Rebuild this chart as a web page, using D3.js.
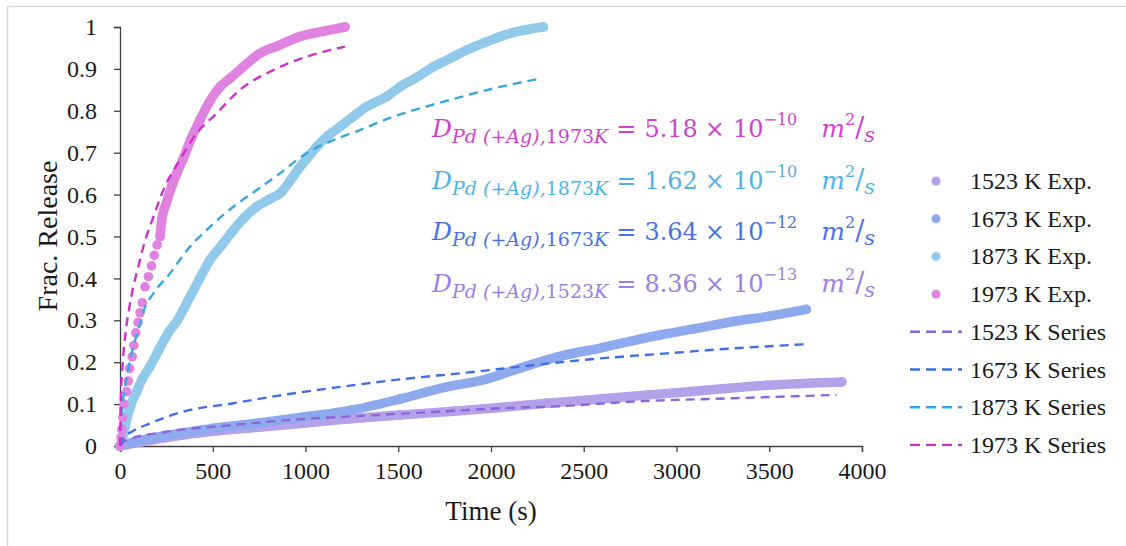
<!DOCTYPE html>
<html lang="en">
<head>
<meta charset="UTF-8">
<title>Frac. Release</title>
<style>
  body { margin: 0; background: #fff; }
</style>
</head>
<body>
<script src="https://cdn.jsdelivr.net/npm/d3@7/dist/d3.min.js"></script>
<script>
// ---- data ----
const temps = ["1523", "1673", "1873", "1973"];

// experimental release, [time s, fraction]
const exp1523 = [[0,0],[250,0.02],[500,0.035],[750,0.045],[1000,0.055],[1240,0.065],[1509,0.074],[1800,0.083],[2049,0.092],[2300,0.102],[2588,0.112],[2850,0.122],[3127,0.132],[3486,0.145],[3891,0.153]];
const exp1673 = [[0,0],[100,0.012],[250,0.025],[500,0.042],[750,0.055],[1000,0.07],[1240,0.085],[1509,0.112],[1750,0.14],[1977,0.16],[2150,0.185],[2354,0.212],[2600,0.235],[2911,0.265],[3100,0.28],[3306,0.297],[3500,0.31],[3700,0.326]];
const exp1873 = [[0,0],[20,0.03],[40,0.07],[60,0.1],[90,0.13],[120,0.16],[162,0.19],[210,0.23],[260,0.27],[310,0.3],[377,0.356],[430,0.4],[485,0.444],[550,0.48],[611,0.515],[670,0.545],[737,0.571],[810,0.59],[871,0.606],[920,0.635],[960,0.66],[1006,0.685],[1060,0.714],[1120,0.74],[1186,0.762],[1260,0.787],[1330,0.81],[1438,0.834],[1509,0.857],[1600,0.88],[1689,0.905],[1780,0.925],[1869,0.945],[1960,0.962],[2049,0.977],[2150,0.99],[2282,1.0]];
const exp1973 = [[0,0],[5,0.02],[10,0.04],[15,0.068],[22,0.1],[36,0.13],[45,0.155],[52,0.185],[66,0.213],[75,0.24],[85,0.27],[97,0.295],[108,0.318],[120,0.342],[135,0.38],[153,0.404],[170,0.43],[185,0.455],[200,0.48],[216,0.5],[225,0.54],[250,0.58],[279,0.62],[310,0.655],[341,0.685],[380,0.73],[431,0.778],[480,0.82],[539,0.857],[600,0.88],[664,0.905],[755,0.937],[850,0.955],[970,0.977],[1100,0.99],[1213,1.0]];

// model series
const fit1523 = [[0,0],[36,0.014],[252,0.034],[611,0.05],[970,0.064],[1222,0.07],[1509,0.077],[1800,0.084],[2049,0.09],[2372,0.095],[2767,0.106],[3306,0.114],[3863,0.122]];
const fit1673 = [[0,0],[20,0.02],[63,0.034],[162,0.054],[341,0.082],[611,0.102],[880,0.122],[1222,0.143],[1509,0.159],[1869,0.175],[2228,0.193],[2588,0.209],[2947,0.221],[3306,0.233],[3702,0.243]];
const fit1873 = [[0,0],[10,0.08],[27,0.14],[50,0.195],[72,0.237],[108,0.29],[126,0.32],[180,0.364],[270,0.412],[359,0.466],[485,0.523],[611,0.571],[737,0.611],[863,0.651],[1006,0.699],[1150,0.73],[1294,0.754],[1473,0.786],[1650,0.81],[1779,0.826],[2049,0.857],[2255,0.876]];
const fit1973 = [[0,0],[5,0.12],[15,0.2],[30,0.27],[50,0.33],[72,0.38],[100,0.43],[126,0.476],[180,0.547],[234,0.611],[323,0.683],[413,0.746],[521,0.794],[647,0.85],[826,0.897],[1006,0.929],[1213,0.953]];

// diffusion coefficients shown on the chart: [temperature, mantissa, exponent]
const coeffs = [["1973", "5.18", "−10"], ["1873", "1.62", "−10"], ["1673", "3.64", "−12"], ["1523", "8.36", "−13"]];

const xTicks = [0, 500, 1000, 1500, 2000, 2500, 3000, 3500, 4000];
const yTicks = [0, 0.1, 0.2, 0.3, 0.4, 0.5, 0.6, 0.7, 0.8, 0.9, 1];

// ---- styling ----
const serif = "'Liberation Serif', 'Times New Roman', serif";
const mathFont = "'DejaVu Serif', serif";
const expColor = {"1523": "#b3a1ea", "1673": "#8ea9ee", "1873": "#91c9ea", "1973": "#e082e0"};
const fitColor = {"1523": "#8c66d9", "1673": "#3f6fe3", "1873": "#3aa6dd", "1973": "#cc33cc"};
const txtColor = {"1523": "#9b80e2", "1673": "#4b72e2", "1873": "#52b2e2", "1973": "#cc44cc"};
const expData = {"1523": exp1523, "1673": exp1673, "1873": exp1873, "1973": exp1973};
const fitData = {"1523": fit1523, "1673": fit1673, "1873": fit1873, "1973": fit1973};

const width = 1126, height = 546;
const svg = d3.select("body").append("svg")
    .attr("width", width).attr("height", height);

// faint outer frame
svg.append("rect").attr("x", 7.5).attr("y", 6.5)
    .attr("width", 1200).attr("height", 600)
    .attr("fill", "none").attr("stroke", "#d9d9d9").attr("stroke-width", 1.5);

const x = d3.scaleLinear().domain([0, 4000]).range([120, 862]);
const y = d3.scaleLinear().domain([0, 1]).range([446, 27]);

// axes
const xAxis = svg.append("g").attr("transform", "translate(0,446)")
    .call(d3.axisBottom(x).tickValues(xTicks).tickSize(6).tickPadding(10).tickFormat(d3.format("d")));
const yAxis = svg.append("g").attr("transform", "translate(120,0)")
    .call(d3.axisLeft(y).tickValues(yTicks).tickSize(6).tickPadding(17).tickFormat(d => d));

[xAxis, yAxis].forEach(g => {
    g.attr("font-family", null).attr("font-size", null);
    g.select(".domain").attr("stroke", "#404040").attr("stroke-width", 1.3);
    g.selectAll(".tick line").attr("stroke", "#404040").attr("stroke-width", 1.3);
    g.selectAll(".tick text").attr("fill", "#1a1a1a")
        .style("font-family", serif).style("font-size", "24px");
});

svg.append("text").attr("x", 491).attr("y", 520).attr("text-anchor", "middle")
    .style("font-family", serif).style("font-size", "27px").attr("fill", "#1a1a1a").text("Time (s)");
svg.append("text").attr("transform", "translate(57,236) rotate(-90)").attr("text-anchor", "middle")
    .style("font-family", serif).style("font-size", "28px").attr("fill", "#1a1a1a").text("Frac. Release");

const line = d3.line().x(d => x(d[0])).y(d => y(d[1])).curve(d3.curveMonotoneX);

// experimental series: dense markers drawn as a thick band of dots
temps.forEach(t => {
    const g = svg.append("g");
    // the fast 1973 K run shows separate dots on its steep start
    const banded = t === "1973" ? expData[t].filter(d => d[0] >= 216) : expData[t];
    g.append("path").datum(banded).attr("d", line)
        .attr("fill", "none").attr("stroke", expColor[t]).attr("stroke-width", 9.5)
        .attr("stroke-linecap", "round").attr("stroke-linejoin", "round");
    g.selectAll("circle").data(expData[t]).enter().append("circle")
        .attr("cx", d => x(d[0])).attr("cy", d => y(d[1])).attr("r", 4.8)
        .attr("fill", expColor[t]);
});

// model series, dashed
temps.forEach(t => {
    svg.append("path").datum(fitData[t]).attr("d", line)
        .attr("fill", "none").attr("stroke", fitColor[t]).attr("stroke-width", 2.4)
        .attr("stroke-dasharray", "9,6");
});

// diffusion coefficient labels
coeffs.forEach((c, i) => {
    const by = 137 + i * 51.5;
    const tx = svg.append("text").attr("x", 432).attr("y", by)
        .attr("fill", txtColor[c[0]])
        .style("font-family", mathFont);
    tx.append("tspan").attr("font-style", "italic").attr("font-size", 25).text("D");
    tx.append("tspan").attr("font-style", "italic").attr("font-size", 19).attr("dy", 6)
        .text("Pd (+Ag),");
    tx.append("tspan").attr("font-size", 19).text(c[0]);
    tx.append("tspan").attr("font-style", "italic").attr("font-size", 19).text("K");
    tx.append("tspan").attr("font-size", 24).attr("dy", -6).attr("dx", 8).text("=");
    tx.append("tspan").attr("font-size", 24).attr("dx", 8).text(c[1]);
    tx.append("tspan").attr("font-size", 24).attr("dx", 7).text("×");
    tx.append("tspan").attr("font-size", 24).attr("dx", 8).text("10");
    tx.append("tspan").attr("font-size", 16).attr("dy", -12).text(c[2]);
    tx.append("tspan").attr("font-style", "italic").attr("font-size", 25).attr("dy", 12).attr("dx", 24).text("m");
    tx.append("tspan").attr("font-size", 16).attr("dy", -12).text("2");
    tx.append("tspan").attr("font-size", 27).attr("dy", 12).text("/");
    tx.append("tspan").attr("font-style", "italic").attr("font-size", 21).attr("dy", 5).text("s");
});

// legend
const legendY0 = 181, legendStep = 37.7;
temps.forEach((t, i) => {
    const ly = legendY0 + i * legendStep;
    svg.append("circle").attr("cx", 936).attr("cy", ly).attr("r", 4.5).attr("fill", expColor[t]);
    svg.append("text").attr("x", 970).attr("y", ly + 8).style("font-family", serif).style("font-size", "24px")
        .attr("fill", "#1a1a1a").text(t + " K Exp.");
});
temps.forEach((t, i) => {
    const ly = legendY0 + (i + 4) * legendStep;
    svg.append("line").attr("x1", 910).attr("x2", 962).attr("y1", ly).attr("y2", ly)
        .attr("stroke", fitColor[t]).attr("stroke-width", 2.4).attr("stroke-dasharray", "10,6");
    svg.append("text").attr("x", 970).attr("y", ly + 8).style("font-family", serif).style("font-size", "24px")
        .attr("fill", "#1a1a1a").text(t + " K Series");
});
</script>
</body>
</html>
